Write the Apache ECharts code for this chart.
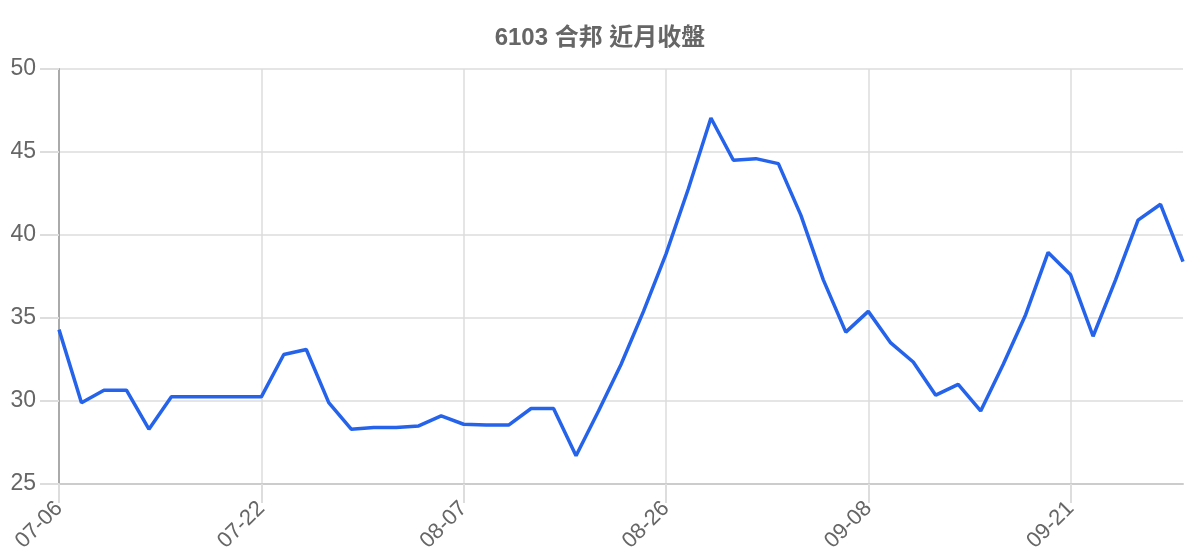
<!DOCTYPE html>
<html><head><meta charset="utf-8">
<script src="https://cdn.jsdelivr.net/npm/echarts@6/dist/echarts.min.js"></script>
<style>html,body{margin:0;padding:0;background:#fff}#c{width:1200px;height:560px}</style>
</head><body><div id="c"></div>
<script>
const titleText = '6103 合邦 近月收盤';
const dates = ['07-06','07-07','07-10','07-11','07-12','07-13','07-14','07-17','07-18','07-22',
'07-24','07-25','07-26','07-27','07-28','07-31','08-01','08-02','08-07',
'08-08','08-10','08-11','08-14','08-15','08-17','08-21','08-23','08-26',
'08-28','08-29','08-30','08-31','09-01','09-04','09-05','09-06','09-08',
'09-11','09-12','09-13','09-14','09-15','09-18','09-19','09-20','09-21',
'09-22','09-25','09-26','09-27','09-28'];
const closes = [34.3,29.9,30.65,30.65,28.3,30.25,30.25,30.25,30.25,30.25,
32.8,33.1,29.9,28.3,28.4,28.4,28.5,29.1,28.6,
28.55,28.55,29.55,29.55,26.7,29.4,32.2,35.4,38.85,
42.8,47.05,44.5,44.6,44.3,41.2,37.3,34.15,35.4,
33.5,32.35,30.35,31.0,29.4,32.2,35.2,38.95,37.6,
33.9,37.3,40.9,41.85,38.4];
const yTicks = [25,30,35,40,45,50];

const chart = echarts.init(document.getElementById('c'));
chart.setOption({
  animation:false,
  title:{text:titleText,left:'center',top:21,textStyle:{fontSize:24,fontWeight:'bold',color:'#666',fontFamily:'Liberation Sans, Noto Sans CJK TC, sans-serif'}},
  grid:{left:59,right:17,top:69,bottom:76,containLabel:false},
  xAxis:{type:'category',data:dates,boundaryGap:false,
    axisLine:{lineStyle:{color:'#ccc',width:2}},
    axisTick:{show:true,interval:8,length:19,lineStyle:{color:'#ddd',width:2}},
    splitLine:{show:true,interval:8,lineStyle:{color:'#ddd',width:1.5}},
    axisLabel:{interval:8,rotate:45,margin:21,fontSize:22,color:'#666',fontFamily:'Liberation Sans, sans-serif'}},
  yAxis:{type:'value',min:yTicks[0],max:yTicks[yTicks.length-1],interval:5,
    axisLine:{show:true,lineStyle:{color:'#aaa',width:2}},
    axisTick:{show:true,length:19,lineStyle:{color:'#ddd',width:2}},
    splitLine:{lineStyle:{color:'#ddd',width:1.5}},
    axisLabel:{margin:23,fontSize:23,color:'#666',fontFamily:'Liberation Sans, sans-serif'}},
  series:[{type:'line',data:closes,showSymbol:false,lineStyle:{color:'#2563eb',width:3.5},itemStyle:{color:'#2563eb'}}]
});
</script></body></html>
